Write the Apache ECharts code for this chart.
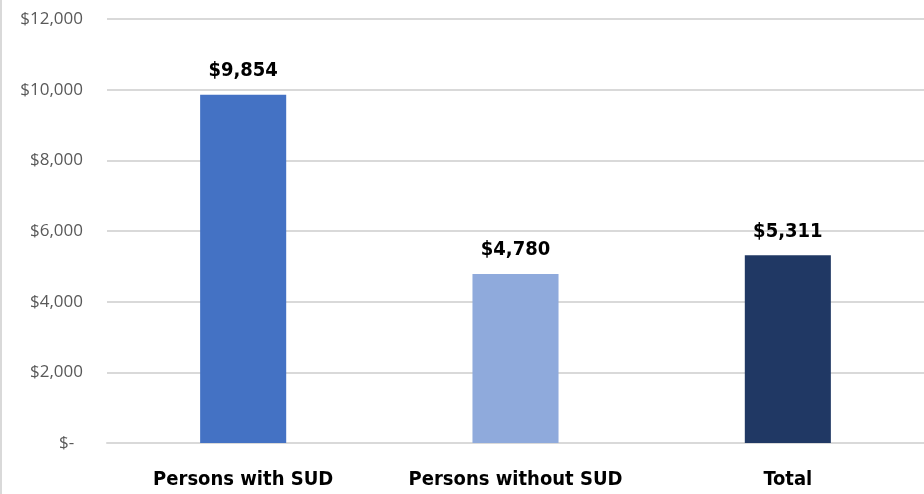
<!DOCTYPE html>
<html>
<head>
<meta charset="utf-8">
<script src="https://cdn.jsdelivr.net/npm/echarts@6/dist/echarts.min.js"></script>
<style>
  html, body { margin: 0; padding: 0; background: #fff; }
  #chart { width: 924px; height: 494px; border-left: 2px solid #d9d9d9; box-sizing: border-box; }
</style>
</head>
<body>
<div id="chart"></div>
<script>
// Average cost per person by group
const categories = ['Persons with SUD', 'Persons without SUD', 'Total'];
const values = [9854, 4780, 5311];
const barColors = ['#4472C4', '#8FAADC', '#203864'];
const yTickLabels = ['$-', '$2,000', '$4,000', '$6,000', '$8,000', '$10,000', '$12,000'];

const chart = echarts.init(document.getElementById('chart'));
const fontFam = '"Liberation Sans Narrow", "DejaVu Sans Condensed", "Open Sans", sans-serif';

chart.setOption({
  animation: false,
  grid: { left: 105, right: 0, top: 19, bottom: 51, containLabel: false },
  xAxis: {
    type: 'category',
    data: categories,
    axisLine: { show: true, lineStyle: { color: '#d9d9d9', width: 2 } },
    axisTick: { show: false },
    axisLabel: {
      interval: 0,
      color: '#000', fontSize: 20, fontWeight: 'bold', fontFamily: fontFam, margin: 27
    }
  },
  yAxis: {
    type: 'value',
    min: 0, max: 12000, interval: 2000,
    axisLine: { show: false },
    axisTick: { show: false },
    splitLine: { lineStyle: { color: '#d9d9d9', width: 2 } },
    axisLabel: {
      color: '#595959', fontSize: 17, fontFamily: '"Open Sans", sans-serif', margin: 24,
      formatter: v => {
        const s = yTickLabels[Math.round(v / 2000)];
        return v === 0 ? s + '  ' : s;
      }
    }
  },
  series: [{
    type: 'bar',
    barWidth: '31.6%',
    data: values.map((v, i) => ({ value: v, itemStyle: { color: barColors[i] } })),
    label: {
      show: true, position: 'top', distance: 14,
      color: '#000', fontSize: 20, fontWeight: 'bold', fontFamily: fontFam,
      formatter: p => '$' + p.value.toLocaleString('en-US')
    }
  }]
});
</script>
</body>
</html>
